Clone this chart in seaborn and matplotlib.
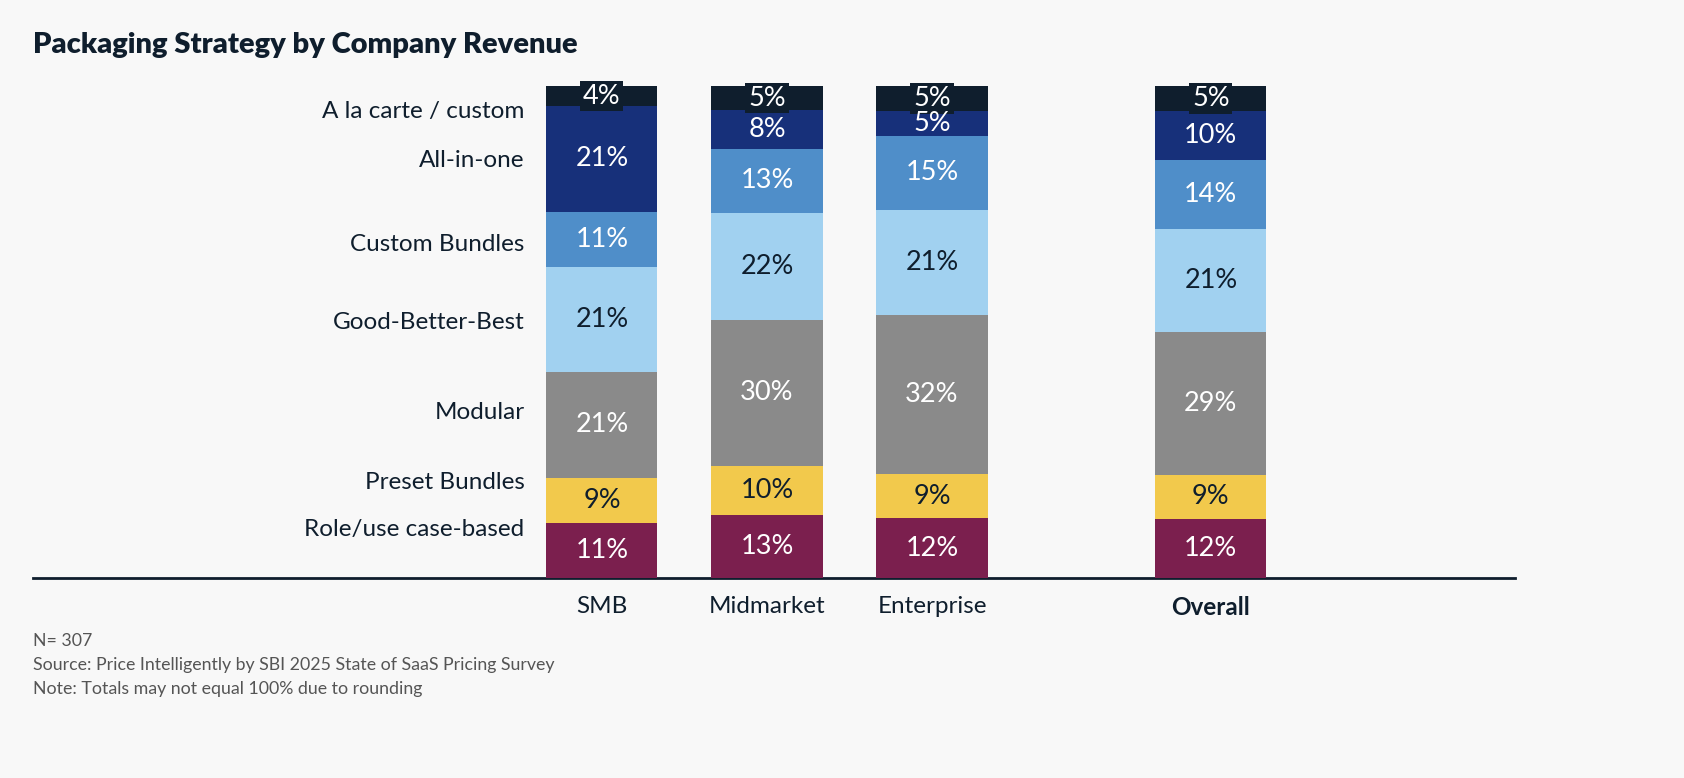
import matplotlib
matplotlib.use("Agg")
import matplotlib.pyplot as plt
import seaborn as sns
import numpy as np
import pandas as pd

# ---- data ----
groups = ["SMB", "Midmarket", "Enterprise", "Overall"]
strategies = ["Role/use case-based", "Preset Bundles", "Modular", "Good-Better-Best",
              "Custom Bundles", "All-in-one", "A la carte / custom"]
role_based = [11, 13, 12, 12]
preset_bundles = [9, 10, 9, 9]
modular = [21, 30, 32, 29]
good_better_best = [21, 22, 21, 21]
custom_bundles = [11, 13, 15, 14]
all_in_one = [21, 8, 5, 10]
a_la_carte = [4, 5, 5, 5]
footnotes = ["N= 307",
             "Source: Price Intelligently by SBI 2025 State of SaaS Pricing Survey",
             "Note: Totals may not equal 100% due to rounding"]

series = [role_based, preset_bundles, modular, good_better_best,
          custom_bundles, all_in_one, a_la_carte]

# ---- styling ----
colors = ["#7b1f4e", "#f2c94c", "#8a8a8a", "#a1d1f0", "#4f8ec9", "#17307a", "#0f1e2d"]
text_colors = ["white", "#0f1e2d", "white", "#0f1e2d", "white", "white", "white"]
x_pos = [0, 1, 2, 3.69]
label_y = [9.8, 19.5, 33.7, 52.0, 67.7, 84.8, 94.9]
bg = "#f8f8f8"
dark = "#0f1e2d"

sns.set_theme(style="white")
plt.rcParams["font.family"] = ["Lato", "DejaVu Sans"]

fig = plt.figure(figsize=(16.84, 7.78), dpi=100, facecolor=bg)
ax = fig.add_axes([33 / 1684, 200 / 778, (1515 - 33) / 1684, (578 - 86) / 778])
ax.set_facecolor(bg)

vals = np.array(series, dtype=float)          # (strategy, group)
totals = vals.sum(axis=0)
norm = vals / totals * 100
bottoms = np.zeros(len(groups))
n = len(strategies)

for i, strat in enumerate(strategies):
    df = pd.DataFrame({"x": x_pos, "y": norm[i]})
    sns.barplot(data=df, x="x", y="y", native_scale=True, width=0.673,
                color=colors[i], saturation=1, bottom=bottoms.copy(),
                linewidth=0, ax=ax, orient="x")
    for j in range(len(groups)):
        yc = bottoms[j] + norm[i][j] / 2
        kw = {}
        if i == n - 1:
            kw["bbox"] = dict(boxstyle="square,pad=0.1", fc=colors[i], ec="none")
            kw["zorder"] = 3
        else:
            kw["zorder"] = 4
        ax.text(x_pos[j], yc, f"{series[i][j]}%", ha="center", va="center",
                fontsize=19.5, color=text_colors[i], **kw)
    bottoms += norm[i]

# left-side category labels
for i, strat in enumerate(strategies):
    ax.text(-0.47, label_y[i], strat, ha="right", va="center",
            fontsize=17.5, color=dark)

ax.set_xlim(-3.448, 5.533)
ax.set_ylim(0, 100)
ax.set_xticks(x_pos)
ax.set_xticklabels(groups, fontsize=17.5, color=dark)
for lab in ax.get_xticklabels():
    if lab.get_text() == "Overall":
        lab.set_fontweight("bold")
ax.tick_params(axis="x", length=0, pad=13)
ax.set_yticks([])
ax.set_xlabel("")
ax.set_ylabel("")
for side in ["top", "right", "left"]:
    ax.spines[side].set_visible(False)
ax.spines["bottom"].set_color(dark)
ax.spines["bottom"].set_linewidth(2)
ax.spines["bottom"].set_zorder(0.5)

fig.text(33 / 1684, 1 - 45 / 778, "Packaging Strategy by Company Revenue",
         fontsize=21, fontweight="heavy", color=dark, ha="left", va="center")
for k, line in enumerate(footnotes):
    fig.text(33 / 1684, 1 - (641 + 24 * k) / 778, line, fontsize=12.8,
             color="#555555", ha="left", va="center")

fig.savefig("out.png", dpi=100, facecolor=bg)
